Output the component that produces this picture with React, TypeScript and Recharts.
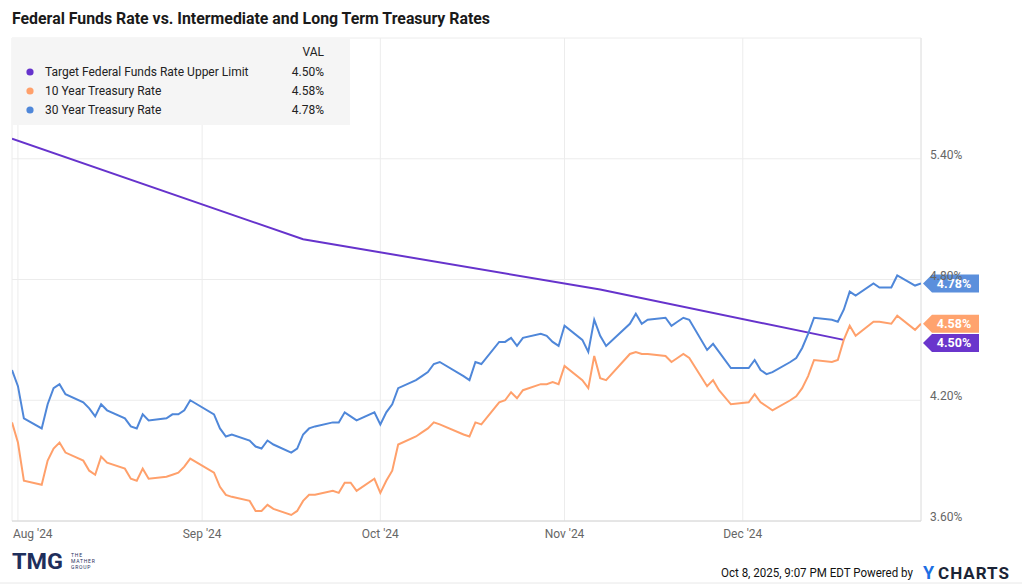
import { CartesianGrid, Line, LineChart, ReferenceDot, ReferenceLine, XAxis, YAxis } from 'recharts'

const PURPLE = '#6633cc'
const ORANGE = '#ffa06b'
const BLUE = '#4f87d9'

// business days shown for both treasury series
const tsyDates = [
  '2024-07-31', '2024-08-01', '2024-08-02', '2024-08-05', '2024-08-06', '2024-08-07', '2024-08-08', '2024-08-09',
  '2024-08-12', '2024-08-13', '2024-08-14', '2024-08-15', '2024-08-16',
  '2024-08-19', '2024-08-20', '2024-08-21', '2024-08-22', '2024-08-23',
  '2024-08-26', '2024-08-27', '2024-08-28', '2024-08-29', '2024-08-30',
  '2024-09-03', '2024-09-04', '2024-09-05', '2024-09-06',
  '2024-09-09', '2024-09-10', '2024-09-11', '2024-09-12', '2024-09-13',
  '2024-09-16', '2024-09-17', '2024-09-18', '2024-09-19', '2024-09-20',
  '2024-09-23', '2024-09-24', '2024-09-25', '2024-09-26', '2024-09-27',
  '2024-09-30', '2024-10-01', '2024-10-02', '2024-10-03', '2024-10-04',
  '2024-10-07', '2024-10-08', '2024-10-09', '2024-10-10', '2024-10-11',
  '2024-10-15', '2024-10-16', '2024-10-17', '2024-10-18',
  '2024-10-21', '2024-10-22', '2024-10-23', '2024-10-24', '2024-10-25',
  '2024-10-28', '2024-10-29', '2024-10-30', '2024-10-31', '2024-11-01',
  '2024-11-04', '2024-11-05', '2024-11-06', '2024-11-07', '2024-11-08',
  '2024-11-12', '2024-11-13', '2024-11-14', '2024-11-15',
  '2024-11-18', '2024-11-19', '2024-11-20', '2024-11-21', '2024-11-22',
  '2024-11-25', '2024-11-26', '2024-11-27', '2024-11-29',
  '2024-12-02', '2024-12-03', '2024-12-04', '2024-12-05', '2024-12-06',
  '2024-12-09', '2024-12-10', '2024-12-11', '2024-12-12', '2024-12-13',
  '2024-12-16', '2024-12-17', '2024-12-18', '2024-12-19', '2024-12-20',
  '2024-12-23', '2024-12-24', '2024-12-26', '2024-12-27', '2024-12-30', '2024-12-31',
]

const tenYear = [
  4.09, 3.99, 3.8, 3.78, 3.9, 3.96, 3.99, 3.94,
  3.9, 3.85, 3.83, 3.92, 3.89,
  3.86, 3.81, 3.8, 3.86, 3.81,
  3.82, 3.83, 3.84, 3.87, 3.91,
  3.84, 3.77, 3.73, 3.72,
  3.7, 3.65, 3.65, 3.68, 3.66,
  3.63, 3.65, 3.7, 3.73, 3.73,
  3.75, 3.74, 3.79, 3.79, 3.75,
  3.81, 3.74, 3.8, 3.85, 3.98,
  4.02, 4.04, 4.06, 4.09, 4.08,
  4.03, 4.02, 4.09, 4.08,
  4.19, 4.2, 4.24, 4.21, 4.25,
  4.28, 4.28, 4.29, 4.28, 4.37,
  4.3, 4.26, 4.42, 4.31, 4.3,
  4.43, 4.44, 4.43, 4.43,
  4.42, 4.39, 4.41, 4.43, 4.41,
  4.27, 4.3, 4.25, 4.18,
  4.19, 4.23, 4.19, 4.17, 4.15,
  4.2, 4.22, 4.26, 4.32, 4.4,
  4.39, 4.4, 4.5, 4.57, 4.52,
  4.59, 4.59, 4.58, 4.62, 4.55, 4.58,
]

const thirtyYear = [
  4.35, 4.27, 4.11, 4.06, 4.18, 4.26, 4.28, 4.23,
  4.19, 4.16, 4.12, 4.18, 4.15,
  4.11, 4.07, 4.06, 4.13, 4.1,
  4.11, 4.13, 4.13, 4.15, 4.2,
  4.13, 4.06, 4.02, 4.03,
  4.0, 3.97, 3.96, 4.0, 3.98,
  3.94, 3.96, 4.03, 4.06, 4.07,
  4.09, 4.09, 4.14, 4.12, 4.1,
  4.14, 4.08, 4.14, 4.18, 4.26,
  4.3, 4.32, 4.34, 4.38, 4.39,
  4.32, 4.3, 4.39, 4.38,
  4.49, 4.49, 4.51, 4.47, 4.51,
  4.53, 4.52, 4.49, 4.47, 4.57,
  4.5, 4.44, 4.6, 4.52, 4.47,
  4.58, 4.63, 4.58, 4.6,
  4.61, 4.57, 4.59, 4.61, 4.6,
  4.45, 4.48, 4.44, 4.36,
  4.36, 4.4, 4.35, 4.33, 4.34,
  4.39, 4.41, 4.46, 4.53, 4.61,
  4.6, 4.59, 4.65, 4.74, 4.72,
  4.78, 4.76, 4.76, 4.82, 4.77, 4.78,
]

// fed funds upper limit, drawn between change dates
const fedDates = ['2024-07-31', '2024-09-18', '2024-11-07', '2024-12-18']
const fedUpper = [5.5, 5.0, 4.75, 4.5]

const monthTicks = ['2024-08-01', '2024-09-01', '2024-10-01', '2024-11-01', '2024-12-01']
const monthLabels = ["Aug '24", "Sep '24", "Oct '24", "Nov '24", "Dec '24"]
const yTicks = [3.6, 4.2, 4.8, 5.4, 6.0]

const seriesNames = ['Target Federal Funds Rate Upper Limit', '10 Year Treasury Rate', '30 Year Treasury Rate']
const seriesLast = ['4.50%', '4.58%', '4.78%']
const seriesColors = [PURPLE, ORANGE, BLUE]

const toTs = (d: string) => Date.UTC(+d.slice(0, 4), +d.slice(5, 7) - 1, +d.slice(8, 10))

const tenRows = tsyDates.map((d, i) => ({ t: toTs(d), v: tenYear[i] }))
const thirtyRows = tsyDates.map((d, i) => ({ t: toTs(d), v: thirtyYear[i] }))
const fedRows = fedDates.map((d, i) => ({ t: toTs(d), v: fedUpper[i] }))

const xStart = toTs(tsyDates[0])
const xEnd = toTs(tsyDates[tsyDates.length - 1])
const xTicks = monthTicks.map(toTs)

const FONT = 'Roboto, "Noto Sans", sans-serif'

function XTick({ x, y, payload }: any) {
  const i = xTicks.indexOf(payload.value)
  const first = i === 0
  return (
    <text x={first ? x - 5 : x} y={y} dy={9} textAnchor={first ? 'start' : 'middle'} fontSize={12} fill="#666" fontFamily={FONT}>
      {monthLabels[i]}
    </text>
  )
}

function YTick({ x, y, payload }: any) {
  if (payload.value >= 6) return null
  return (
    <text x={x} y={y} dy={0} textAnchor="start" fontSize={12} fill="#666" fontFamily={FONT}>
      {payload.value.toFixed(2) + '%'}
    </text>
  )
}

function flag(color: string, text: string, shift: number) {
  return (props: any) => {
    const { cx } = props
    const cy = props.cy + shift
    const pts = `${cx + 2},${cy} ${cx + 11},${cy - 9} ${cx + 58},${cy - 9} ${cx + 58},${cy + 9} ${cx + 11},${cy + 9}`
    return (
      <g>
        <polygon points={pts} fill={color} />
        <text x={cx + 33} y={cy + 4.5} textAnchor="middle" fontSize={12.5} fontWeight={700} fill="#fff" fontFamily={FONT}>
          {text}
        </text>
      </g>
    )
  }
}

export default function App() {
  return (
    <div style={{ position: 'absolute', left: 0, top: 0, width: 1022, height: 585, background: '#fff', fontFamily: FONT }}>
      <LineChart width={1022} height={585} margin={{ top: 38, right: 0, bottom: 34, left: 12 }}>
        <CartesianGrid stroke="#ececec" />
        <XAxis
          type="number"
          dataKey="t"
          domain={[xStart, xEnd]}
          ticks={xTicks}
          interval={0}
          tick={<XTick />}
          tickLine={false}
          axisLine={{ stroke: '#d6d6d6' }}
          height={30}
          allowDataOverflow
        />
        <YAxis
          orientation="right"
          domain={[3.6, 6.0]}
          ticks={yTicks}
          interval={0}
          tick={<YTick />}
          tickLine={false}
          axisLine={false}
          tickSize={6}
          tickMargin={3}
          width={101}
          allowDataOverflow
        />
        <ReferenceLine x={xEnd} stroke="#e4e4e4" />
        <Line data={fedRows} dataKey="v" stroke={PURPLE} strokeWidth={2} dot={false} isAnimationActive={false} />
        <Line data={tenRows} dataKey="v" stroke={ORANGE} strokeWidth={2} dot={false} isAnimationActive={false} />
        <Line data={thirtyRows} dataKey="v" stroke={BLUE} strokeWidth={2} dot={false} isAnimationActive={false} />
        <ReferenceDot x={xEnd} y={thirtyYear[thirtyYear.length - 1]} r={0} shape={flag('#5b8fdc', seriesLast[2], 0)} ifOverflow="visible" />
        <ReferenceDot x={xEnd} y={tenYear[tenYear.length - 1]} r={0} shape={flag('#ffa36e', seriesLast[1], 0)} ifOverflow="visible" />
        <ReferenceDot x={xEnd} y={fedUpper[fedUpper.length - 1]} r={0} shape={flag('#6a35cc', seriesLast[0], 3)} ifOverflow="visible" />
      </LineChart>

      <svg width={1022} height={585} style={{ position: 'absolute', left: 0, top: 0, pointerEvents: 'none' }}>
        <text x={12} y={24} fontSize={16} fontWeight={700} fill="#1a1a1a" fontFamily={FONT} textLength={478} lengthAdjust="spacingAndGlyphs">
          Federal Funds Rate vs. Intermediate and Long Term Treasury Rates
        </text>

        <rect x={12} y={38} width={338} height={87} fill="#f5f5f5" />
        <text x={324} y={56} textAnchor="end" fontSize={12} fill="#222" fontFamily={FONT}>VAL</text>
        {seriesNames.map((name, i) => (
          <g key={name}>
            <circle cx={30} cy={72 + i * 19} r={3.6} fill={seriesColors[i]} />
            <text x={45} y={76 + i * 19} fontSize={12} fill="#222" fontFamily={FONT}>{name}</text>
            <text x={324} y={76 + i * 19} textAnchor="end" fontSize={12} fill="#222" fontFamily={FONT}>{seriesLast[i]}</text>
          </g>
        ))}

        <text x={12} y={569} fontSize={22} fontWeight={700} fill="#1f2f5c" fontFamily={FONT} textLength={51} lengthAdjust="spacingAndGlyphs">TMG</text>
        <text x={71} y={557} fontSize={5} fill="#1f2f5c" fontFamily={FONT} letterSpacing={0.8}>THE</text>
        <text x={71} y={563} fontSize={5} fill="#1f2f5c" fontFamily={FONT} letterSpacing={0.8}>MATHER</text>
        <text x={71} y={569} fontSize={5} fill="#1f2f5c" fontFamily={FONT} letterSpacing={0.8}>GROUP</text>

        <text x={721} y={577} fontSize={12} fill="#111" fontFamily={FONT} textLength={192} lengthAdjust="spacingAndGlyphs">
          Oct 8, 2025, 9:07 PM EDT Powered by
        </text>
        <text x={923} y={579} fontSize={18} fontWeight={700} fill="#1c6fe3" fontFamily={FONT}>Y</text>
        <text x={938} y={579} fontSize={17} fontWeight={700} fill="#1b2436" fontFamily={FONT} textLength={72} lengthAdjust="spacingAndGlyphs" letterSpacing={1}>
          CHARTS
        </text>
        <line x1={0} y1={583} x2={1022} y2={583} stroke="#e8e8e8" />
      </svg>
    </div>
  )
}
